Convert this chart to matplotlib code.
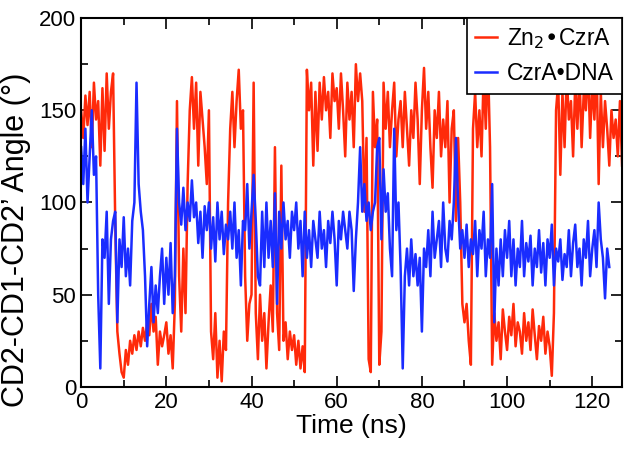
import numpy as np
import matplotlib
matplotlib.use("Agg")
import matplotlib.pyplot as plt
from matplotlib.ticker import MultipleLocator

plt.rcParams['font.family'] = ['Liberation Sans', 'DejaVu Sans']

# angle traces, one value every 0.5 ns
step = 0.5

zn_czra = [
    150, 135, 158, 142, 160, 130, 165, 145, 155, 120,
    162, 128, 170, 140, 160, 170, 90, 30, 18, 8,
    5, 20, 12, 25, 18, 28, 20, 30, 22, 32,
    25, 35, 28, 45, 30, 38, 12, 30, 22, 28,
    35, 18, 28, 10, 45, 155, 60, 30, 75, 40,
    110, 150, 168, 140, 165, 120, 160, 145, 130, 110,
    150, 30, 15, 40, 5, 25, 3, 30, 20, 100,
    140, 160, 130, 155, 172, 140, 150, 60, 25, 45,
    50, 165, 40, 15, 50, 25, 40, 10, 35, 55,
    30, 130, 40, 20, 120, 25, 35, 15, 30, 20,
    28, 12, 25, 10, 22, 8, 172, 150, 165, 120,
    160, 128, 165, 145, 168, 150, 160, 135, 170, 155,
    162, 140, 170, 150, 125, 165, 145, 160, 130, 175,
    155, 170, 155, 95, 135, 15, 8, 160, 130, 145,
    12, 30, 165, 140, 160, 130, 150, 165, 125, 145,
    155, 130, 160, 140, 120, 150, 135, 165, 145, 110,
    150, 173, 140, 160, 130, 108, 150, 135, 160, 125,
    145, 130, 155, 100, 140, 150, 90, 135, 100, 45,
    35, 45, 25, 12, 140, 160, 130, 150, 125, 170,
    140, 178, 130, 12, 40, 25, 35, 15, 42, 30,
    20, 38, 28, 45, 22, 35, 30, 18, 40, 25,
    35, 20, 42, 28, 15, 33, 25, 38, 18, 30,
    22, 6, 40, 150, 165, 115, 160, 130, 170, 145,
    155, 125, 165, 140, 170, 130, 160, 150, 175, 135,
    165, 145, 178, 110, 160, 130, 155, 140, 120, 150,
    135, 145, 125, 155, 120,
]

czra_dna = [
    130, 110, 140, 100, 125, 150, 115, 125, 50, 10,
    80, 70, 95, 45, 80, 90, 95, 35, 80, 65,
    92, 60, 75, 55, 90, 100, 165, 110, 95, 85,
    60, 22, 45, 65, 35, 55, 40, 60, 75, 45,
    70, 50, 78, 40, 60, 140, 100, 88, 108, 85,
    100, 90, 112, 92, 100, 78, 95, 70, 98, 85,
    100, 75, 92, 68, 100, 80, 95, 72, 88, 80,
    95, 75, 100, 70, 85, 55, 90, 85, 110, 75,
    95, 115, 90, 60, 55, 95, 65, 100, 70, 90,
    65, 105, 45, 95, 75, 100, 80, 90, 70, 95,
    85, 100, 75, 90, 60, 95, 70, 85, 65, 90,
    80, 70, 95, 75, 85, 65, 90, 78, 95, 80,
    55, 90, 80, 95, 85, 75, 95, 85, 52, 80,
    100, 130, 95, 110, 90, 100, 85, 95, 100, 130,
    135, 80, 118, 95, 105, 75, 60, 140, 85, 100,
    65, 10, 60, 75, 55, 80, 60, 72, 55, 70,
    30, 75, 65, 85, 60, 95, 70, 80, 90, 65,
    100, 75, 68, 90, 80, 100, 135, 100, 75, 85,
    70, 88, 65, 80, 72, 90, 60, 85, 75, 95,
    60, 80, 70, 110, 35, 75, 55, 80, 60, 85,
    70, 90, 60, 80, 55, 75, 65, 90, 60, 78,
    68, 82, 55, 75, 65, 85, 62, 78, 55, 80,
    70, 88, 55, 75, 68, 80, 58, 72, 65, 85,
    60, 78, 88, 65, 75, 55, 80, 70, 90, 60,
    75, 85, 65, 100, 80, 70, 48, 75, 65,
]

t_zn = np.arange(len(zn_czra)) * step
t_dna = np.arange(len(czra_dna)) * step

fig = plt.figure(figsize=(6.29, 4.53), dpi=100)
ax = fig.add_axes([0.129, 0.146, 0.860, 0.814])

ax.plot(t_zn, zn_czra, color='#ff2a0a', lw=1.8, label='Zn$_2$•CzrA')
ax.plot(t_dna, czra_dna, color='#1a2cff', lw=1.8, label='CzrA•DNA')

ax.set_xlim(0, 127)
ax.set_ylim(0, 200)
ax.xaxis.set_major_locator(MultipleLocator(20))
ax.xaxis.set_minor_locator(MultipleLocator(10))
ax.yaxis.set_major_locator(MultipleLocator(50))
ax.yaxis.set_minor_locator(MultipleLocator(25))
ax.tick_params(which='both', direction='in', top=True, right=True, width=1.2, labelsize=16)
ax.tick_params(which='major', length=8)
ax.tick_params(which='minor', length=5)
for s in ax.spines.values():
    s.set_linewidth(1.5)

ax.set_xlabel('Time (ns)', fontsize=19, labelpad=1)
ax.set_ylabel('CD2-CD1-CD2’ Angle (°)', fontsize=22)
ax.yaxis.set_label_coords(-0.093, 0.40)

leg = ax.legend(loc='upper right', fontsize=16.5, borderaxespad=0, fancybox=False,
                handlelength=0.95, handletextpad=0.45, labelspacing=0.5, borderpad=0.35)
leg.get_frame().set_edgecolor('black')
leg.get_frame().set_linewidth(1.2)
leg.get_frame().set_alpha(1)

fig.savefig('out.png', dpi=100)
